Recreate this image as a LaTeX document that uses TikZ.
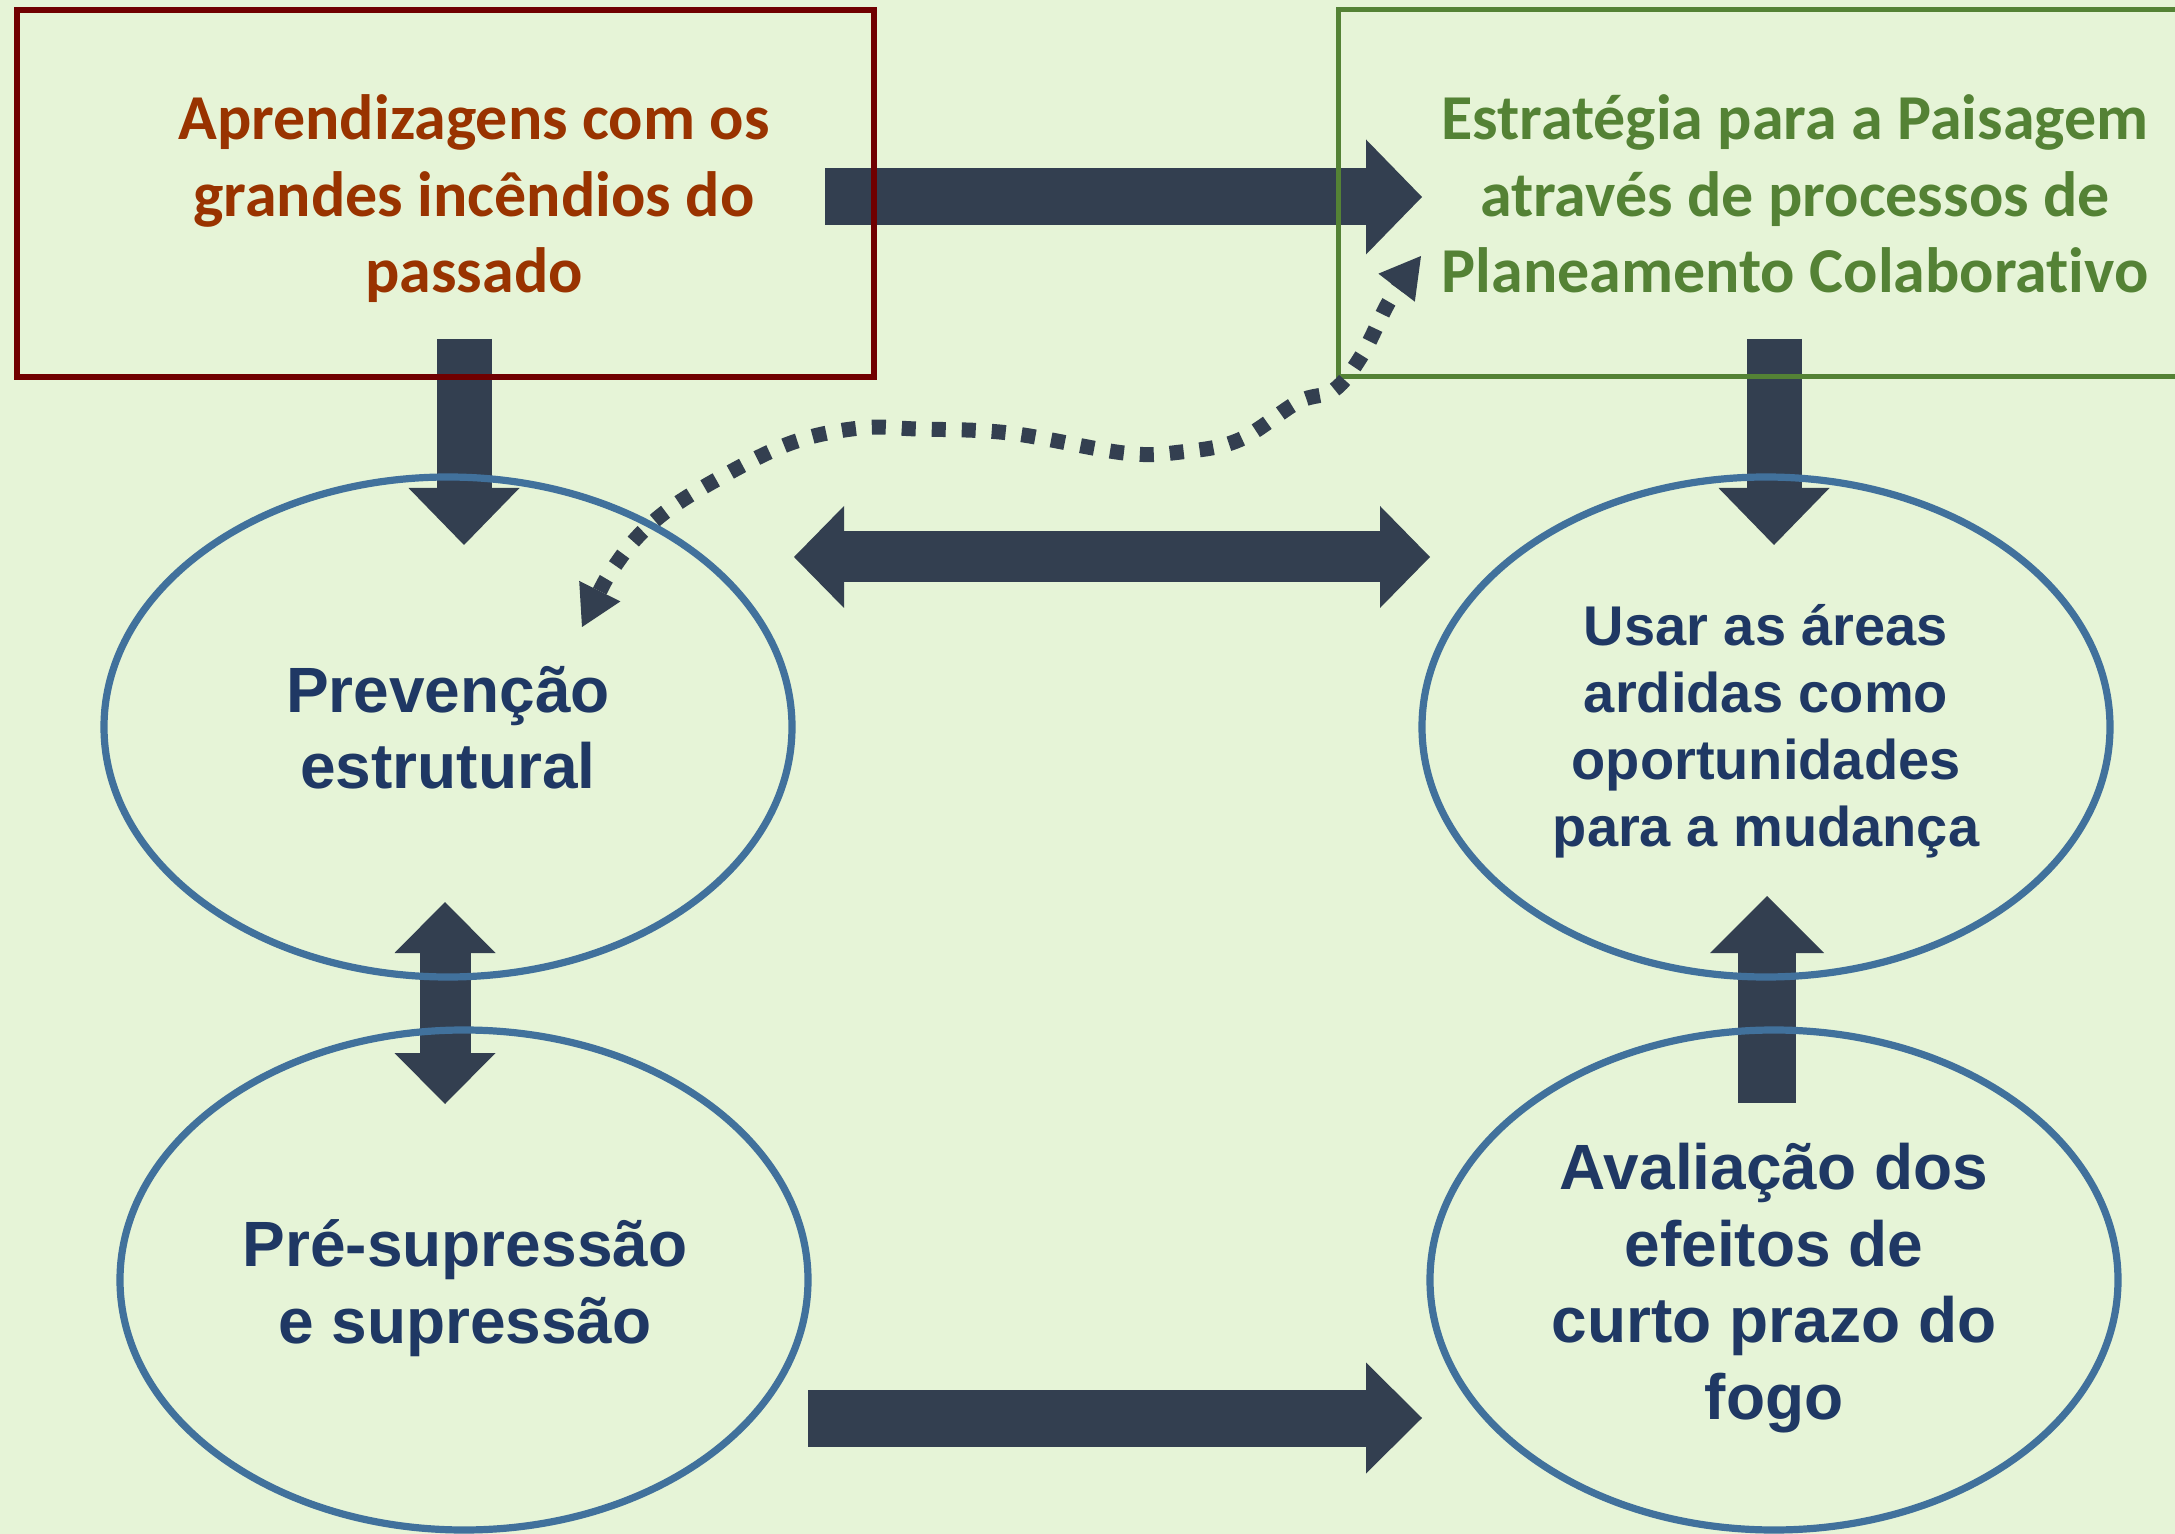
\documentclass[tikz,border=0pt]{standalone}
\usepackage{fontspec}
\setmainfont{Liberation Sans}
\newfontfamily\calib[Ligatures={CommonOff,ContextualOff}]{Carlito}
\usetikzlibrary{arrows.meta,shapes.geometric}
\definecolor{bgc}{RGB}{230,244,215}
\definecolor{arrc}{RGB}{51,63,80}
\definecolor{ellc}{RGB}{65,113,156}
\definecolor{navy}{RGB}{31,56,100}
\definecolor{rtext}{RGB}{153,51,0}
\definecolor{rbox}{RGB}{112,0,0}
\definecolor{gtext}{RGB}{84,130,53}
\begin{document}
\begin{tikzpicture}[x=0.5pt,y=-0.5pt,
  ell/.style={draw=ellc, line width=3.6pt, ellipse, minimum width=344pt, minimum height=250pt, inner sep=0pt},
  etext/.style={text=navy, font=\bfseries\fontsize{32pt}{38.25pt}\selectfont, align=center, inner sep=0pt},
  etextsmall/.style={text=navy, font=\bfseries\fontsize{28pt}{33.5pt}\selectfont, align=center, inner sep=0pt},
  btext/.style={font=\calib\bfseries\fontsize{32pt}{38.25pt}\selectfont, align=center, inner sep=0pt},
  blk/.style args={#1/#2/#3}{draw=arrc, line width=#1, -{Triangle[length=#2,width=#3,line width=0pt]}},
  dblk/.style args={#1/#2/#3}{draw=arrc, line width=#1, {Triangle[length=#2,width=#3,line width=0pt]}-{Triangle[length=#2,width=#3,line width=0pt]}},
  dotc/.style={draw=arrc, line width=7.5pt, dash pattern=on 7pt off 8pt,
     {Triangle[length=20pt,width=23pt,line width=0pt]}-{Triangle[length=20pt,width=23pt,line width=0pt]}}
]
\fill[bgc] (0,0) rectangle (2175,1534);
\useasboundingbox (0,0) rectangle (2175,1534);

% arrow end points
\coordinate (a1s) at (825,197);  \coordinate (a1e) at (1422,197);
\coordinate (a2s) at (464,339);  \coordinate (a2e) at (464,545);
\coordinate (a3s) at (1774,339); \coordinate (a3e) at (1774,545);
\coordinate (a4s) at (794,557);  \coordinate (a4e) at (1430,557);
\coordinate (a5s) at (445,902);  \coordinate (a5e) at (445,1104);
\coordinate (a6s) at (808,1418); \coordinate (a6e) at (1422,1418);
\coordinate (a7s) at (1767,1103);\coordinate (a7e) at (1767,896);
\coordinate (dS) at (582,627);   \coordinate (dE) at (1421,256);

\draw[blk=28.5pt/28pt/57.5pt] (a1s) -- (a1e);
\draw[blk=27.5pt/28.5pt/55.5pt] (a2s) -- (a2e);
\draw[blk=27.5pt/28.5pt/55.5pt] (a3s) -- (a3e);
\draw[dblk=25.5pt/25pt/51pt] (a4s) -- (a4e);
\draw[dblk=25.5pt/25.5pt/50.5pt] (a5s) -- (a5e);
\draw[blk=28.5pt/28pt/55.5pt] (a6s) -- (a6e);
\draw[blk=28.75pt/28.5pt/57pt] (a7s) -- (a7e);

% boxes
\draw[rbox, line width=2.65pt] (17,10) rectangle (874,377);
\draw[gtext, line width=2.35pt] (1338.5,9.5) rectangle (2200,376.5);

\draw[dotc] plot[smooth, tension=0.6] coordinates {(dS) (619,560) (659,517) (716,480) (791,443) (860,428) (917,429) (1009,433) (1124,453) (1181,452) (1239,440) (1298,402) (1334,390) (1362,355) (1390,300) (dE)};

% ellipses
\node[ell] (prev) at (448,727) {};
\node[ell] (usar) at (1766,727) {};
\node[ell] (pres) at (464,1280) {};
\node[ell] (aval) at (1774,1280) {};

\node[btext, text=rtext] (aprend) at (474,199) {Aprendizagens com os\\grandes incêndios do\\passado};
\node[btext, text=gtext] (estrat) at (1795,194) {Estratégia para a Paisagem\\através de processos de\\Planeamento Colaborativo};

\node[etext] (tprev) at (448,728) {Prevenção\\estrutural};
\node[etextsmall] (tusar) at (1766,731) {Usar as áreas\\ardidas como\\oportunidades\\para a mudança};
\node[etext] (tpres) at (465,1288) {Pré-supressão\\e supressão};
\node[etext] (taval) at (1774,1288) {Avaliação dos\\efeitos de\\curto prazo do\\fogo};
\end{tikzpicture}
\end{document}
